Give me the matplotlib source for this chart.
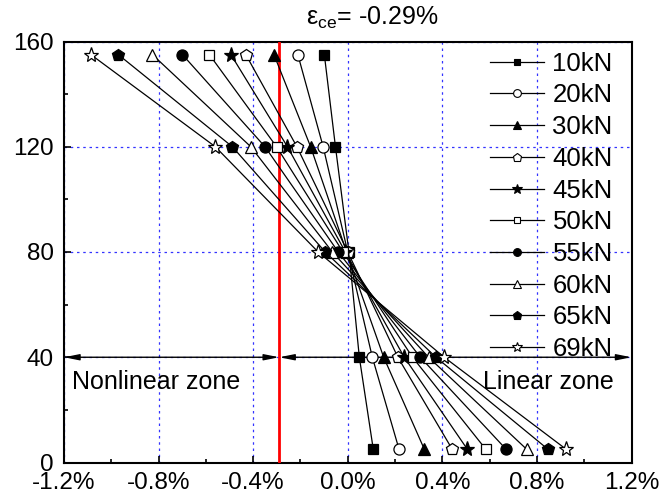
import matplotlib
matplotlib.use("Agg")
import matplotlib.pyplot as plt
from matplotlib.ticker import MultipleLocator, FuncFormatter
from matplotlib.lines import Line2D

plt.rcParams['font.family'] = ['Liberation Sans', 'DejaVu Sans']
plt.rcParams['mathtext.fontset'] = 'custom'
plt.rcParams['mathtext.rm'] = 'Liberation Sans'
plt.rcParams['mathtext.it'] = 'Liberation Sans:italic'

# ---- data ----
loads = ['10kN', '20kN', '30kN', '40kN', '45kN', '50kN', '55kN', '60kN', '65kN', '69kN']
heights = [5, 40, 80, 120, 155]
s10 = [0.108, 0.049, 0.005, -0.052, -0.099]
s20 = [0.217, 0.104, 0.000, -0.104, -0.211]
s30 = [0.324, 0.152, -0.005, -0.157, -0.312]
s40 = [0.442, 0.212, 0.000, -0.215, -0.431]
s45 = [0.506, 0.239, -0.010, -0.255, -0.494]
s50 = [0.584, 0.274, -0.020, -0.301, -0.585]
s55 = [0.670, 0.307, -0.040, -0.350, -0.699]
s60 = [0.757, 0.342, -0.065, -0.410, -0.826]
s65 = [0.847, 0.373, -0.095, -0.488, -0.970]
s69 = [0.924, 0.408, -0.125, -0.560, -1.086]
strains = [s10, s20, s30, s40, s45, s50, s55, s60, s65, s69]
eps_ce = -0.29
x_ticks = [-1.2, -0.8, -0.4, 0.0, 0.4, 0.8, 1.2]
y_ticks = [0, 40, 80, 120, 160]

markers = ['s', 'o', '^', 'p', '*', 's', 'o', '^', 'p', '*']
filled = [True, False, True, False, True, False, True, False, True, False]
msizes = [7, 8, 8, 9, 11, 7, 8, 8, 9, 11]

fig = plt.figure(figsize=(6.61, 4.97), dpi=100)
ax = fig.add_axes([64/661, 1-462.5/497, (631.5-64)/661, (462.5-41.5)/497])

for s, lab, m, f, ms in zip(strains, loads, markers, filled, msizes):
    ax.plot(s, heights, color='black', lw=0.9, marker=m, ms=ms,
            mfc='black' if f else 'white', mec='black', mew=0.9, label=lab, zorder=4)

ax.set_xlim(-1.2, 1.2)
ax.set_ylim(0, 160)
ax.set_xticks(x_ticks)
ax.set_yticks(y_ticks)
ax.xaxis.set_minor_locator(MultipleLocator(0.2))
ax.yaxis.set_minor_locator(MultipleLocator(20))

def pct(v, pos):
    if abs(v) < 1e-9:
        v = 0.0
    return f'{v:.1f}%'
ax.xaxis.set_major_formatter(FuncFormatter(pct))
ax.tick_params(which='both', direction='in', labelsize=17.5, width=1.2)
ax.tick_params(which='major', length=5)
ax.tick_params(which='minor', length=3)
ax.tick_params(axis='x', which='major', pad=7)
ax.tick_params(axis='y', which='major', pad=7.5)
for sp in ax.spines.values():
    sp.set_linewidth(1.5)

ax.grid(True, which='major', color='blue', ls=(0, (2, 3)), lw=0.9, alpha=0.8, zorder=1)

ax.axvline(eps_ce, color='red', lw=2, zorder=3)

arrow_kw = dict(arrowstyle='<|-|>,head_length=0.9,head_width=0.18', color='black', lw=1.0, shrinkA=0, shrinkB=0)
ax.annotate('', xy=(-1.2, 40), xytext=(eps_ce, 40), arrowprops=arrow_kw, zorder=3)
ax.annotate('', xy=(eps_ce, 40), xytext=(1.2, 40), arrowprops=arrow_kw, zorder=3)

ax.text(-1.165, 30.5, 'Nonlinear zone', fontsize=18, ha='left', va='center')
ax.text(1.125, 30.5, 'Linear zone', fontsize=18, ha='right', va='center')

fig.text(372/661, 1-18/497, r'$\mathrm{\varepsilon_{ce}}$= -0.29%', fontsize=18, ha='center', va='center')

handles = [Line2D([], [], color='black', lw=0.9, marker=m, ms=ms*0.7,
                  mfc='black' if f else 'white', mec='black', mew=0.8)
           for m, f, ms in zip(markers, filled, msizes)]
ax.legend(handles, loads, loc='upper right', frameon=False, fontsize=18.5,
          handlelength=2.14, handletextpad=0.31, labelspacing=0.30,
          borderaxespad=0.0, bbox_to_anchor=(0.985, 1.0))

fig.savefig('out.png', dpi=100)
